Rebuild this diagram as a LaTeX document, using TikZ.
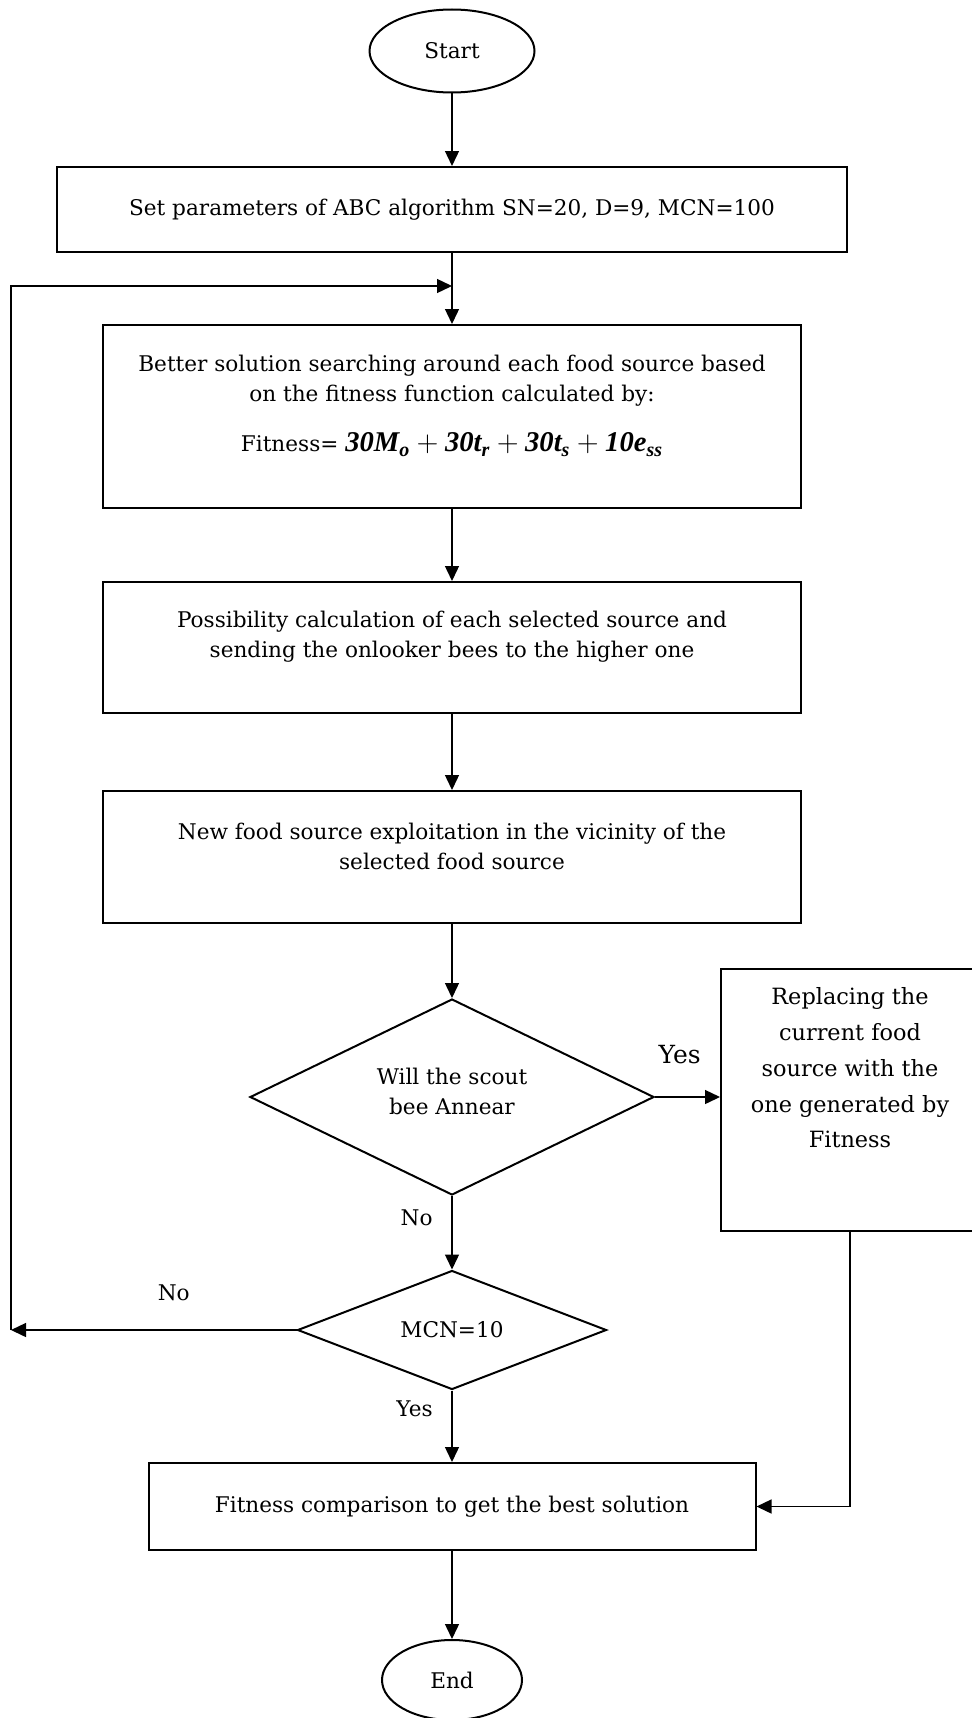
\documentclass[tikz,border=0pt]{standalone}
\usepackage{fontspec}
\setmainfont{DejaVu Serif}
\newfontfamily\eqfont{Liberation Serif}
\usetikzlibrary{shapes.geometric,arrows.meta,positioning}
\newcommand{\fitterm}[2]{\mbox{\eqfont\bfseries\itshape #1\textsubscript{#2}}}

\begin{document}
\begin{tikzpicture}[x=0.5pt,y=-0.5pt,>={Triangle[length=7.5pt,width=7pt]},
  font=\fontsize{10.8}{15}\selectfont,
  box/.style={draw,line width=1pt,rectangle},
  term/.style={draw,line width=1pt,ellipse},
  cond/.style={draw,line width=1pt,diamond,aspect=2,inner sep=0pt,align=center},
  txt/.style={align=center,inner sep=0pt},
  flow/.style={->,line width=0.7pt}]
\useasboundingbox (0,0) rectangle (971,1718);

\node[term,minimum width=82.5pt,minimum height=41.5pt] (start) at (452,51) {Start};
\node[box,minimum width=395pt,minimum height=42.5pt] (param) at (452,209.5) {Set parameters of ABC algorithm SN=20, D=9, MCN=100};
\node[box,minimum width=349pt,minimum height=91.5pt] (search) at (452,416.5) {};
\node[txt] (searchtxt) at (452,406) {Better solution searching around each food source based\\ on the fitness function calculated by:\\[10pt]
  Fitness= {\fontsize{14.3}{15}\selectfont $\fitterm{30M}{o}+\fitterm{30t}{r}+\fitterm{30t}{s}+\fitterm{10e}{ss}$}};
\node[box,minimum width=349pt,minimum height=65.5pt] (possib) at (452,647.5) {};
\node[txt] (possibtxt) at (452,636.5) {Possibility calculation of each selected source and\\ sending the onlooker bees to the higher one};
\node[box,minimum width=349pt,minimum height=66pt] (newfood) at (452,857) {};
\node[txt] (newfoodtxt) at (452,846) {New food source exploitation in the vicinity of the\\ selected food source};
\node[cond,minimum width=202pt,minimum height=98pt] (scout) at (452,1097) {};
\node[txt] (scouttxt) at (452,1091) {Will the scout\\ bee Annear};
\node[box,minimum width=129pt,minimum height=131pt] (replace) at (850,1100) {};
\node[txt,font=\fontsize{11.2}{17.9}\selectfont] (replacetxt) at (850,1068) {Replacing the\\ current food\\ source with the\\ one generated by\\ Fitness};
\node[cond,minimum width=154.5pt,minimum height=59.5pt] (mcn) at (452,1330) {MCN=10};
\node[box,minimum width=303.5pt,minimum height=43.5pt] (best) at (452,1506.5) {Fitness comparison to get the best solution};
\node[term,minimum width=70pt,minimum height=40pt] (end) at (452,1680) {End};

\coordinate (join) at (452,286);
\coordinate (back) at (11,1330);

\draw[flow] (start) -- (param);
\draw[flow] (param) -- (search);
\draw[flow] (search) -- (possib);
\draw[flow] (possib) -- (newfood);
\draw[flow] (newfood) -- (scout);
\draw[flow] (scout.east) -- node[above=13pt,pos=0.38,font=\fontsize{12.5}{15}\selectfont] (yesright) {Yes} (scout.east -| replace.west);
\draw[flow] (scout) -- node[left=6pt,pos=0.3] (noscout) {No} (mcn);
\draw[flow] (mcn.west) -- node[above=11pt,pos=0.43] (noloop) {No} (back);
\draw[flow] (back) |- (join);
\draw[flow] (mcn) -- node[left=6pt,pos=0.26] (yesmcn) {Yes} (best);
\draw[flow] (replace.south) |- (best.east);
\draw[flow] (best) -- (end);
\end{tikzpicture}
\end{document}
